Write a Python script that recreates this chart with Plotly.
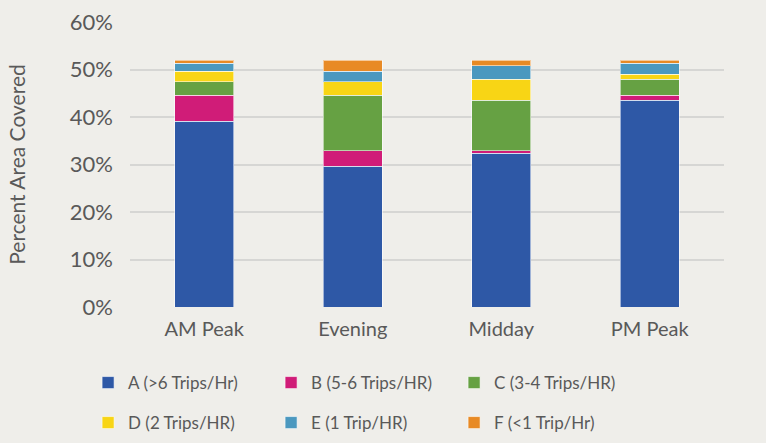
import plotly.graph_objects as go

categories = ["AM Peak", "Evening", "Midday", "PM Peak"]
series_names = ["A (>6 Trips/Hr)", "B (5-6 Trips/HR)", "C (3-4 Trips/HR)",
                "D (2 Trips/HR)", "E (1 Trip/HR)", "F (<1 Trip/Hr)"]
A = [0.391, 0.296, 0.324, 0.435]
B = [0.055, 0.033, 0.005, 0.011]
C = [0.028, 0.117, 0.106, 0.034]
D = [0.022, 0.028, 0.045, 0.010]
E = [0.017, 0.022, 0.028, 0.023]
F = [0.006, 0.023, 0.011, 0.006]
colors = ["#2E58A6", "#D01C78", "#66A143", "#F8D515", "#4B98BF", "#E88A25"]
y_ticks = [0, 0.1, 0.2, 0.3, 0.4, 0.5, 0.6]

fig = go.Figure()
for i, (name, vals, col) in enumerate(zip(series_names, [A, B, C, D, E, F], colors)):
    fig.add_trace(go.Bar(
        x=categories, y=vals, name=name,
        legend="legend" if i < 3 else "legend2",
        marker=dict(color=col, line=dict(color="rgba(255,255,255,0.55)", width=1)),
    ))

font_family = "Lato, 'Open Sans', sans-serif"
legend_common = dict(orientation="h", xanchor="left", yanchor="middle",
                     xref="container", yref="container",
                     entrywidth=138, entrywidthmode="pixels", traceorder="normal",
                     font=dict(size=17, color="#595959", family=font_family),
                     itemwidth=30, bgcolor="rgba(0,0,0,0)")
fig.update_layout(
    barmode="stack",
    bargap=0.6,
    width=766, height=443,
    margin=dict(l=130, r=42, t=22, b=136, autoexpand=False),
    paper_bgcolor="#EFEEEA",
    plot_bgcolor="#EFEEEA",
    font=dict(family=font_family, color="#595959", size=18),
    xaxis=dict(showgrid=False, showline=False, ticks="", tickfont=dict(size=20),
               ticklabelstandoff=8),
    yaxis=dict(range=[0, 0.6], tickvals=y_ticks, tickformat=".0%",
               gridcolor="#D6D6D4", gridwidth=1.5, zeroline=False,
               tickfont=dict(size=22), ticklabelstandoff=16,
               title=dict(text="Percent Area Covered", font=dict(size=21), standoff=38)),
    showlegend=True,
    legend=dict(legend_common, x=0.115, y=0.1354),
    legend2=dict(legend_common, x=0.115, y=0.0451),
)

fig.write_html("out.html", config={"displayModeBar": False},
               post_script="document.body.style.margin='0';document.body.style.padding='0';")
